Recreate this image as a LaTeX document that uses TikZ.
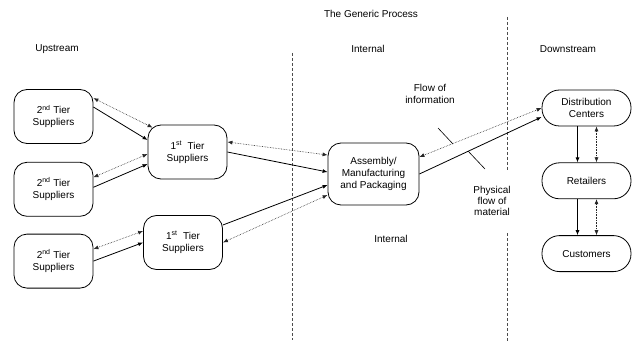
\documentclass[tikz,border=0pt]{standalone}
\usepackage{fontspec}
\setmainfont{Liberation Sans}
\usetikzlibrary{positioning,arrows.meta}

\begin{document}
\begin{tikzpicture}[
    x=1pt,y=-1pt,>={Latex[length=5pt,width=4pt]},
    every node/.style={font=\fontsize{10}{12}\selectfont},
    box/.style={draw,line width=0.8pt,rounded corners=13pt,align=center,minimum width=79pt,minimum height=54pt,inner sep=0pt},
    pill/.style={draw,line width=0.8pt,rounded corners=17.5pt,align=center,minimum width=89pt,minimum height=36pt,inner sep=0pt},
    flow/.style={->,line width=0.8pt},
    info/.style={<->,densely dotted,black!85,line width=0.6pt},
    divider/.style={densely dashed,black!70,line width=0.6pt}]
    \useasboundingbox (0,0) rectangle (632,342);

    \node[box] (T2a) at (53.5,116.5) {2\textsuperscript{nd} Tier\\Suppliers};
    \node[box] (T2b) [below=18pt of T2a] {2\textsuperscript{nd} Tier\\Suppliers};
    \node[box] (T2c) [below=17pt of T2b] {2\textsuperscript{nd} Tier\\Suppliers};
    \node[box] (T1a) at (187.5,152) {1\textsuperscript{st}\ \ Tier\\Suppliers};
    \node[box] (T1b) at (183,242.5) {1\textsuperscript{st}\ \ Tier\\Suppliers};
    \node[box,minimum width=91pt,minimum height=62pt] (asm) at (373.5,174) {Assembly/\\Manufacturing\\and Packaging};
    \node[pill] (dc) at (586.5,108) {Distribution\\Centers};
    \node[pill] (ret) [below=36pt of dc] {Retailers};
    \node[pill] (cust) [below=36pt of ret] {Customers};

    \node (title) at (371,14) {The Generic Process};
    \node (up) at (57,49) {Upstream};
    \node (intA) at (368,49) {Internal};
    \node (down) at (568,49) {Downstream};
    \node[align=center] (infoLbl) at (430,94) {Flow of\\information};
    \node (intB) at (391,239) {Internal};
    \node[align=center,font=\fontsize{10}{11}\selectfont] (matLbl) at (492,201) {Physical\\flow of\\material};

    % zone borders
    \draw[divider] (292,53) -- (292,340);
    \draw[divider] (507,17) -- (507,170);
    \draw[divider] (507,233) -- (507,342);

    % upstream
    \draw[info] ([yshift=-9pt]T2a.north east) -- ([xshift=5pt,yshift=-3pt]T1a.north west);
    \draw[flow] ([yshift=9.5pt]T2a.east) -- ([yshift=12pt]T1a.west);
    \draw[info] ([yshift=12pt]T2b.east) -- ([yshift=-2pt]T1a.west);
    \draw[flow] ([yshift=2pt]T2b.east) -- ([yshift=-12pt]T1a.west);
    \draw[info] ([yshift=12pt]T2c.east) -- ([yshift=11.5pt]T1b.west);
    \draw[flow] (T2c.east) -- (T1b.west);

    % internal
    \draw[info] ([yshift=10pt]T1a.east) -- ([yshift=19pt]asm.west);
    \draw[flow] (T1a.east) -- ([yshift=2pt]asm.west);
    \draw[flow] ([yshift=17.5pt]T1b.east) -- ([yshift=-11pt]asm.west);
    \draw[info] (T1b.east) -- ([yshift=-21pt]asm.west);

    % downstream
    \draw[info] ([yshift=17pt]asm.east) -- (dc.west);
    \draw[flow] (asm.east) -- ([yshift=-9pt]dc.west);
    \draw[flow] ([xshift=-9pt]dc.south) -- ([xshift=-9pt]ret.north);
    \draw[info] ([xshift=10pt]dc.south) -- ([xshift=10pt]ret.north);
    \draw[flow] ([xshift=-9pt]ret.south) -- ([xshift=-9pt]cust.north);
    \draw[info] ([xshift=10pt]ret.south) -- ([xshift=10pt]cust.north);

    % label ticks
    \coordinate (tickA1) at (438,128);
    \coordinate (tickA2) at (453,144);
    \coordinate (tickB1) at (468,151);
    \coordinate (tickB2) at (485,169);
    \draw[line width=0.6pt] (tickA1) -- (tickA2);
    \draw[line width=0.6pt] (tickB1) -- (tickB2);
\end{tikzpicture}
\end{document}
